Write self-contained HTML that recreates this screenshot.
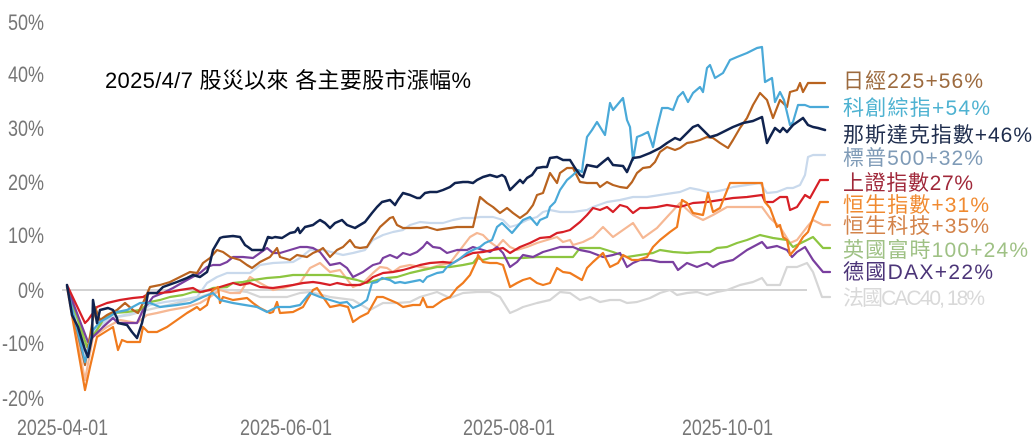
<!DOCTYPE html>
<html><head><meta charset="utf-8"><style>
html,body{margin:0;padding:0;background:#fff;}
svg{display:block;}
text{font-family:"Liberation Sans","Noto Sans CJK TC",sans-serif;}
</style></head><body>
<svg width="1035" height="447" viewBox="0 0 1035 447" xmlns="http://www.w3.org/2000/svg">
<rect width="1035" height="447" fill="#fff"/>
<g fill="#767676" font-size="22">
<text x="8" y="30" textLength="36" lengthAdjust="spacingAndGlyphs">50%</text>
<text x="8" y="82" textLength="36" lengthAdjust="spacingAndGlyphs">40%</text>
<text x="8" y="136" textLength="36" lengthAdjust="spacingAndGlyphs">30%</text>
<text x="8" y="190" textLength="36" lengthAdjust="spacingAndGlyphs">20%</text>
<text x="8" y="243" textLength="36" lengthAdjust="spacingAndGlyphs">10%</text>
<text x="18" y="298" textLength="26" lengthAdjust="spacingAndGlyphs">0%</text>
<text x="2" y="351" textLength="42" lengthAdjust="spacingAndGlyphs">-10%</text>
<text x="2" y="406" textLength="42" lengthAdjust="spacingAndGlyphs">-20%</text>
<text x="17" y="435" textLength="91" lengthAdjust="spacingAndGlyphs">2025-04-01</text>
<text x="240" y="435" textLength="92" lengthAdjust="spacingAndGlyphs">2025-06-01</text>
<text x="463" y="435" textLength="92" lengthAdjust="spacingAndGlyphs">2025-08-01</text>
<text x="682" y="435" textLength="91" lengthAdjust="spacingAndGlyphs">2025-10-01</text>
</g>
<text x="105" y="88" font-size="22" fill="#000" textLength="366">2025/4/7 股災以來 各主要股市漲幅%</text>
<line x1="62" y1="290" x2="807" y2="290" stroke="#d3d3d3" stroke-width="2"/>
<g fill="none" stroke-width="2.2" stroke-linejoin="round" stroke-linecap="round">
<polyline stroke="#d6d6d6" points="67,287 85,345 95,330 110,318 130,315 147,310 160,307 177,303 200,297 220,290 233,290 247,292 260,297 273,297 287,297 300,293 310,292 330,297 353,300 370,310 383,303 397,303 410,302 420,297 437,292 450,298 463,293 477,292 490,292 500,297 510,313 517,310 523,307 537,303 550,300 560,292 570,293 580,300 590,297 600,302 610,300 620,300 627,303 637,302 650,298 660,293 670,290 677,295 687,293 697,292 707,295 717,292 727,290 740,285 753,282 762,278 767,285 780,285 787,267 797,267 807,263 813,272 822,297 830,297"/>
<polyline stroke="#c9d9ec" points="67,287 85,355 95,330 110,318 125,315 140,312 150,305 165,302 180,300 197,297 207,283 217,277 227,273 240,273 250,273 260,265 273,263 293,262 300,258 310,250 323,250 343,255 353,253 365,250 373,240 383,235 393,232 403,230 410,225 420,222 430,223 443,223 453,220 463,218 473,218 480,217 493,217 503,220 510,227 517,225 527,220 537,217 543,212 550,210 560,212 573,212 587,210 593,207 607,202 620,200 633,197 647,197 660,195 673,193 680,192 690,188 700,190 707,192 713,192 723,190 733,187 747,185 760,183 767,193 777,192 787,188 793,188 800,185 805,175 808,157 813,155 825,155"/>
<polyline stroke="#f6b894" points="67,287 85,380 93,337 107,327 120,320 137,323 147,315 157,313 170,310 187,307 200,303 210,297 220,290 230,293 240,293 250,277 260,283 273,290 287,287 300,283 310,268 320,263 330,272 340,270 353,287 363,283 373,273 380,267 387,268 393,272 400,267 410,265 420,267 430,268 440,265 450,263 460,250 470,237 477,233 483,235 490,242 497,247 503,240 510,247 517,250 527,247 537,243 547,240 557,237 563,242 570,240 573,245 583,242 593,237 603,227 613,237 623,230 633,223 643,238 657,228 667,217 680,203 693,215 703,220 713,215 727,207 740,207 753,207 762,207 770,218 780,227 790,243 797,240 807,227 813,220 823,225 830,225"/>
<polyline stroke="#8dc540" points="67,287 87,347 92,337 97,330 103,320 113,313 127,312 140,310 150,302 160,300 170,297 183,295 193,292 203,292 213,288 227,287 233,283 243,282 253,280 267,278 280,277 293,275 307,275 320,275 330,275 343,277 357,280 367,283 377,280 387,278 397,277 410,273 423,270 437,267 450,267 463,265 473,263 477,258 483,260 490,258 497,258 510,258 523,258 537,257 550,257 560,257 573,257 580,248 600,248 613,252 627,257 640,255 653,253 660,250 673,252 687,253 700,252 710,252 717,248 727,247 737,243 747,240 760,235 773,238 787,240 793,247 807,240 813,237 823,248 830,248"/>
<polyline stroke="#7a3f9f" points="67,287 88,342 93,337 103,327 113,318 118,323 127,323 137,323 143,310 153,297 163,293 173,288 187,280 200,273 207,267 213,265 220,265 227,262 233,257 243,257 253,258 260,253 267,248 273,253 280,253 290,250 300,247 307,247 313,248 320,252 330,265 340,263 347,268 353,277 363,272 370,267 373,265 380,263 383,258 390,255 397,258 403,253 410,255 417,252 423,247 427,242 433,247 440,248 447,253 457,250 467,250 473,247 483,250 490,252 497,247 503,253 510,267 517,262 523,255 533,257 543,252 550,250 560,247 573,247 580,250 590,252 603,257 613,255 620,253 627,267 633,263 640,260 650,260 660,262 673,262 678,270 687,263 697,267 707,263 713,267 720,263 733,260 747,250 762,242 767,248 777,246 787,250 792,257 797,252 805,247 813,260 823,272 830,272"/>
<polyline stroke="#d71f26" points="67,285 85,323 88,320 97,307 107,303 120,300 133,298 143,297 150,293 160,293 170,292 180,290 193,288 200,292 210,290 220,287 233,283 240,285 250,283 260,287 273,288 280,287 293,285 303,283 313,282 320,283 330,285 337,283 347,285 360,285 367,282 373,277 383,273 393,272 403,270 410,268 420,265 430,263 443,262 453,263 463,257 473,253 483,252 493,250 503,248 510,253 520,247 530,243 540,238 550,237 557,233 563,232 570,230 580,222 587,215 593,208 600,210 607,207 613,212 620,205 627,207 633,213 640,208 647,208 657,207 667,205 680,207 693,203 707,202 720,200 733,198 747,197 762,195 765,202 773,202 780,197 787,197 790,210 797,207 805,195 810,198 820,180 828,180"/>
<polyline stroke="#f07b1e" points="67,287 85,390 90,367 97,337 113,327 118,350 122,340 127,342 140,342 143,327 148,332 157,332 167,327 177,320 187,313 197,307 200,310 207,305 210,295 213,290 218,287 220,303 223,297 233,300 247,298 253,303 260,308 270,313 273,312 277,302 280,313 293,312 303,307 313,290 317,288 323,297 330,307 340,305 348,307 353,322 360,317 368,313 377,297 383,297 390,300 397,303 403,307 413,305 420,305 423,298 427,307 433,307 443,300 450,297 457,288 463,283 470,275 477,260 478,255 483,262 490,263 497,263 503,265 510,287 517,283 523,280 530,278 537,283 543,285 550,283 557,268 563,272 570,273 582,280 587,268 593,262 603,253 610,267 618,263 623,255 632,260 638,260 647,257 653,247 660,240 670,232 677,227 680,210 682,200 687,203 693,213 703,215 708,193 713,212 720,208 730,183 747,183 762,183 765,202 770,208 777,227 780,225 783,237 787,240 790,255 797,247 803,237 808,232 813,218 820,202 828,202"/>
<polyline stroke="#b9631f" points="67,287 85,365 95,307 100,320 107,315 117,310 125,303 133,310 138,313 143,303 150,287 160,285 170,282 180,277 190,272 197,273 203,263 210,258 217,250 223,252 230,257 240,260 247,265 252,268 260,262 270,257 277,248 280,257 290,260 297,255 307,257 313,253 320,250 323,248 330,257 337,250 343,247 350,240 355,247 360,248 367,247 373,237 380,227 390,218 393,217 397,225 403,228 410,228 420,228 427,227 437,230 443,229 450,228 457,227 463,227 473,227 480,197 487,203 493,207 500,213 507,208 513,213 520,218 527,213 533,205 537,195 543,193 550,173 557,183 560,173 567,168 573,168 580,182 587,183 597,183 600,187 607,182 613,185 620,187 627,188 632,182 637,173 643,168 650,167 655,162 660,152 667,147 675,150 680,148 687,143 693,142 700,140 707,137 713,138 720,143 728,148 733,140 740,128 747,118 753,105 760,93 767,100 773,118 780,100 787,107 790,92 797,90 800,83 803,92 808,83 817,83 825,83"/>
<polyline stroke="#4aa9d8" points="67,287 85,362 93,330 100,322 107,318 117,312 127,310 140,303 150,303 160,307 177,305 190,303 203,297 213,293 220,300 233,303 245,305 257,307 267,312 277,307 290,307 300,305 310,293 320,297 330,300 340,303 347,302 353,308 360,305 367,300 372,283 377,282 382,278 390,280 395,283 400,282 405,283 410,282 420,280 423,282 427,277 437,273 443,272 447,267 453,263 458,260 467,253 473,250 480,247 485,243 492,240 497,227 502,223 507,228 512,233 517,227 523,220 530,217 537,225 540,220 547,217 550,207 555,202 560,190 567,180 573,175 578,170 582,172 583,163 587,137 592,130 597,122 605,135 610,103 613,110 623,98 627,120 630,127 633,160 637,137 642,135 648,132 653,147 657,128 662,108 668,108 673,110 678,97 683,92 688,102 693,93 700,87 703,92 707,68 710,65 715,78 723,73 730,60 737,57 747,53 757,48 762,47 765,82 772,78 775,102 780,92 784,100 790,125 793,122 798,105 805,105 810,107 820,107 828,107"/>
<polyline stroke="#10234f" stroke-width="2.5" points="67,285 72,315 78,327 85,350 88,357 92,337 93,300 97,323 100,310 108,308 113,310 117,318 118,323 127,325 132,332 137,338 142,323 145,310 148,293 157,293 163,287 177,282 187,278 193,275 200,277 207,272 210,263 213,250 220,238 223,237 233,236 240,237 245,245 248,247 252,250 263,250 268,237 272,238 275,237 282,238 290,233 295,232 298,228 300,233 305,227 313,225 317,222 320,220 325,223 330,228 335,223 342,220 347,225 355,228 360,225 365,222 372,213 377,207 382,202 390,200 395,205 398,200 403,193 410,195 417,198 420,198 425,193 430,192 437,192 443,190 450,187 455,183 463,182 468,182 473,183 477,180 483,177 490,175 497,177 502,175 505,177 510,190 515,185 520,180 523,183 527,178 532,175 537,168 543,167 547,167 550,158 557,157 563,160 570,160 575,168 580,175 583,177 587,165 597,167 603,162 608,158 613,165 623,166 627,172 633,158 640,157 650,153 660,148 667,143 675,138 680,140 687,133 693,127 698,125 703,130 710,137 717,135 723,132 733,127 743,123 753,121 762,117 767,143 770,137 775,128 780,132 783,128 787,132 793,125 803,118 808,125 813,127 818,128 825,130"/>
</g>
<g font-size="21">
<text x="843" y="88" fill="#9c6a3e" textLength="140">日經225+56%</text>
<text x="843" y="115" fill="#4eb2d1" textLength="147">科創綜指+54%</text>
<text x="843" y="142" fill="#1f2d4d" textLength="189">那斯達克指數+46%</text>
<text x="843" y="165" fill="#7f9bb7" textLength="140">標普500+32%</text>
<text x="843" y="190" fill="#a0283a" textLength="130">上證指數27%</text>
<text x="843" y="212" fill="#f08a30" textLength="146">恒生指數+31%</text>
<text x="843" y="233" fill="#d3834a" textLength="146">恒生科技+35%</text>
<text x="843" y="257" fill="#9fc185" textLength="185">英國富時100+24%</text>
<text x="843" y="279" fill="#4c3578" textLength="150">德國DAX+22%</text>
<text x="843" y="305" fill="#d9d9d9" textLength="142">法國CAC40, 18%</text>
</g>
</svg>
</body></html>
